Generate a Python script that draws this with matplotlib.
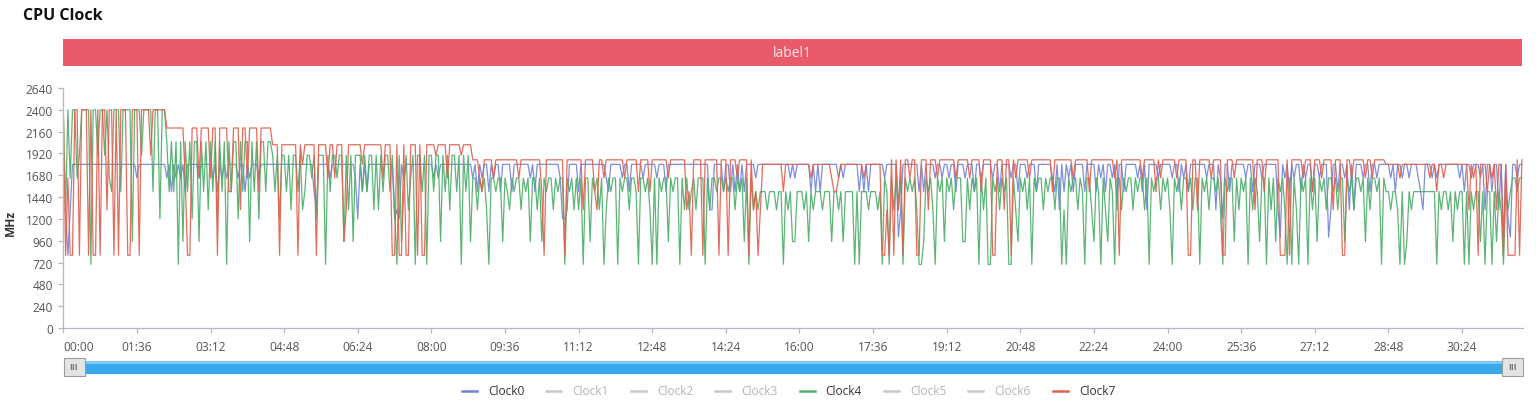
import numpy as np
import matplotlib
matplotlib.use("Agg")
import matplotlib.pyplot as plt
from matplotlib.patches import Rectangle
from matplotlib.lines import Line2D

plt.rcParams['font.family'] = ['Open Sans', 'DejaVu Sans']

# --- data ---
# one letter per 3 s sample, one string per 96 s tick interval
STEP_S = 3
LEVELS = {'A': 2400, 'B': 2200, 'C': 2050, 'D': 2016, 'E': 1900, 'F': 1850,
          'G': 1800, 'H': 1650, 'I': 1500, 'J': 1300, 'K': 1200, 'L': 1000,
          'M': 950, 'O': 800, 'P': 700}

clock0 = [
    "JJOJGGGGGGGGGGGGGGGGGGGGGGGGGGGG",
    "HGGGGGGGGGGGGHGIGHGHGIGGGGGHGGGG",
    "GHGIGHGHGGGGHGGIGHGGGHGGGGGGGGGG",
    "GGGGGGGGGGGGGIJGGGGGHGGGGGGGGGGH",
    "KGIGIGGGGGGGGGGGKJKGHGGGGGGGGGGG",
    "GHGHGGGGGGGGGGGGGGHGIGHGGIGHGGIG",
    "GGGIGGGGGGGHGIGGGGGGGGGGHKKJGGGG",
    "IGGGGGGGGGGGHIGGGGGHGGIGGGGGHGGG",
    "GGHGGGIGGGGGGGGGGGGGGGGGGJJGGGGI",
    "GGIGIGIGIGGGGHGGGGGGGGGGGGGGHGHG",
    "GGGGGIGIGIGGGGGGGHGHGGGGGGIGIGIG",
    "GGGGGHGGGGGLJGGGGGGGIGIGGGGHGGHG",
    "GHGGIGGGHGGGIGGHGGGGHGGIGGGGHGGI",
    "GGGHGGGIGGGGGGHIGJGIGHGIGGGGIGGG",
    "GIGHGIGGHGJGGIGGGGGHGIGJGGGGHGGG",
    "GGHGGIGHGIGGGGGGGHGGGJGHKGGIGGGG",
    "GGHGGIGGGHGGGGGGJLGHGIGHGGIGHGGI",
    "GGHGGGLJGGIGGHGJGJGGGHGGIGGHGGGG",
    "GHGIGGHGGHGGGHIJGGGHGHGGGGGGGGGH",
    "GIGGHGGGHGJGGIGGJGLGKLGGHGG",
]

clock4 = [
    "AJAHAAHEAAAAPAAEAAEAHIAAAIAAAAMA",
    "AAEAAAAIAAKAACICICPCMCICKCCMCICJ",
    "CICKCICPCICCKCICCMCICKCCICCEIEKE",
    "EIEJEEIEJIEEHEKEEEPEIEEHEEMEJEME",
    "EEIEIEEJEJEIEEIEJPEMIEJHEPEEIEPE",
    "EIEEMEIEJEEIEPEIEMHHJHIHJPHHIHHM",
    "HIJHIHHJHIHMHHJHMHIHHJHIHHPHIHJH",
    "JHPHHMHIHJHPJHIHHPHIHHJHHIPHHIHJ",
    "PHPHIHHMHIHHPHJHJIHJHHHPHJHHIHHI",
    "HIHHJHIHMHPHJIJIIIJIIIJIIPIJIMMI",
    "IIJIMIJIIIJIIIMIIJIMIIIIPIPIIIJI",
    "IIJIPHIPHJHJHPHIHIHJPPMHIHJPHIHM",
    "HIHJHHHMMHJHIHPHJHPPHIHJHIHPPHJM",
    "HIHJHPHIHHJHIHHJHHPJPHIHHJHIPHHJ",
    "MHIPHJMHIPHHJHIHHJHIHHJHPHIHHJHI",
    "HJPHIHJHHIHJHHPHIHJHHIHJPHIHHMHJ",
    "HIHPHJHIMHHPHJHMHIHJPHPHJPHIHPHJ",
    "HMHIHJHHIHJHHMHIHJHHIHMHJHHIHPHI",
    "IJIIJPIPMIJIIIIIIIIIIPIJIIJIMIJI",
    "IPIPIJIIMIPIIPIMIJPIJIHHIHH",
]

clock7 = [
    "AOHOOAAOAAAOAOOAOAAJAAOAOAAAOOAA",
    "AOAAAAEAAAAAABBBBBBBBHOOBBBHBBBB",
    "HBBOBBBBIIBBBJBBHBBBBIBBBBBDDDOD",
    "DDDDDDODGDDDDDODDDDHDDHDDDMJDDDD",
    "DDGDDDDDDDDHDDDOODOODOODDDODOODD",
    "DDEDDDDHDDDDDEDDDDFFFHIFFFFHFFFF",
    "FFFFFFHFFFFFFFFFIOFFFFFFFFOFFFFF",
    "FFJFFFFIJFFHFFFFFFFFHFFFFFIFFFFI",
    "FFFFFFFHFFFFFFFJIOFFFFOFFFFFFOFF",
    "FOFFFHFFFFOFJIOJGGGGGGGGGIGGGGGG",
    "GGGGGHGGGGGGGGHIIHGGGGGGGGGGHGGG",
    "GGGGOOJOFOFJFOFFHFFOOFFFJFFFHFFF",
    "FFFFHFFFFFHFFFFIFFFFOOFFFJFFOFHF",
    "FFFFHFFFFFFFFFIFFFFFFFFHFFFFFFIF",
    "FFFFFFFFFHFOFFFFFFFFFHFFFFFIFHFF",
    "FFFFHFFFFOOFFJFFFFFHFFFFOOFFFHFF",
    "FFFFFFJFFFIFFFFFFOOOFOFFFFFHFFFI",
    "FFFHFFFFJFFFOOFFHFFFFFHFFHFFFFFG",
    "GGGGGHGGGGGGGGGGGGHGGIGGHGGGGGGG",
    "GGGJGHGOGGGIGHGJGGOGOOOOFOF",
]

legend_names = ["Clock0", "Clock1", "Clock2", "Clock3",
                "Clock4", "Clock5", "Clock6", "Clock7"]
legend_on = [True, False, False, False, True, False, False, True]


def decode(chunks):
    return np.array([LEVELS[ch] for ch in "".join(chunks)])


series = {
    "Clock0": (decode(clock0), "#7384d6"),
    "Clock4": (decode(clock4), "#4fae6b"),
    "Clock7": (decode(clock7), "#e0614f"),
}

# --- figure, laid out in pixels ---
W, H = 1540, 406
fig = plt.figure(figsize=(W / 100, H / 100), dpi=100)


def fx(px):
    return px / W


def fy(py):
    return 1 - py / H


ax = fig.add_axes([fx(63.3), fy(329), fx(1523) - fx(63.3), fy(89) - fy(329)])
for name, (vals, color) in series.items():
    t = np.arange(len(vals)) * STEP_S
    ax.plot(t, vals, color=color, lw=0.9, alpha=0.92)

ax.set_xlim(0, 1903.5)
ax.set_ylim(0, 2640)
ax.set_yticks(np.arange(0, 2641, 240))
xt = np.arange(0, 1903, 96)
ax.set_xticks(xt)
ax.set_xticklabels([f"{s // 60:02d}:{s % 60:02d}" for s in xt])
ax.get_xticklabels()[0].set_ha('left')

axis_col = '#b4b8c4'
for s in ('top', 'right'):
    ax.spines[s].set_visible(False)
for s in ('left', 'bottom'):
    ax.spines[s].set_color(axis_col)
    ax.spines[s].set_linewidth(0.9)
ax.tick_params(axis='both', colors=axis_col, labelcolor='#555555',
               labelsize=8.6, length=3.8, width=0.9, pad=3.6)
ax.tick_params(axis='x', pad=4.5)

fig.text(fx(10), fy(223), 'MHz', rotation=90, weight='bold', size=8.6,
         ha='center', va='center', color='#333333')
fig.text(fx(23), fy(16), 'CPU Clock', weight='bold', size=11.5,
         ha='left', va='center', color='#111111')

# red label band above the plot
fig.add_artist(Rectangle((fx(63), fy(67)), fx(1522) - fx(63), fy(40) - fy(67),
                         transform=fig.transFigure, facecolor='#e95a6a', lw=0))
fig.text(fx(792.5), fy(53.5), 'label1', color='#fbe4e7', size=10,
         ha='center', va='center')

# zoom slider
fig.add_artist(Rectangle((fx(64), fy(375)), fx(1522) - fx(64), fy(362) - fy(375),
                         transform=fig.transFigure, facecolor='#38a9ec', lw=0))
fig.add_artist(Rectangle((fx(64), fy(364.5)), fx(1522) - fx(64), fy(362) - fy(364.5),
                         transform=fig.transFigure, facecolor='#7cc9f5', lw=0))
for hx in (63.5, 1502):
    fig.add_artist(Rectangle((fx(hx), fy(377)), fx(21) - fx(0), fy(359) - fy(377),
                             transform=fig.transFigure, facecolor='#e4e4e4',
                             edgecolor='#9c9c9c', lw=0.8))
    fig.text(fx(hx + 10.5), fy(368), 'III', color='#777777', size=6.5,
             weight='bold', ha='center', va='center')

# legend
for i, name in enumerate(legend_names):
    x0 = 462 + 84.4 * i
    if legend_on[i]:
        lc, tc = series[name][1], '#333333'
    else:
        lc, tc = '#c8c8c8', '#b4b4b4'
    fig.add_artist(Line2D([fx(x0), fx(x0 + 15)], [fy(391.5), fy(391.5)],
                          transform=fig.transFigure, color=lc, lw=1.8))
    fig.text(fx(x0 + 26), fy(391.5), name, color=tc, size=8.6,
             ha='left', va='center')

fig.savefig('out.png', dpi=100)
